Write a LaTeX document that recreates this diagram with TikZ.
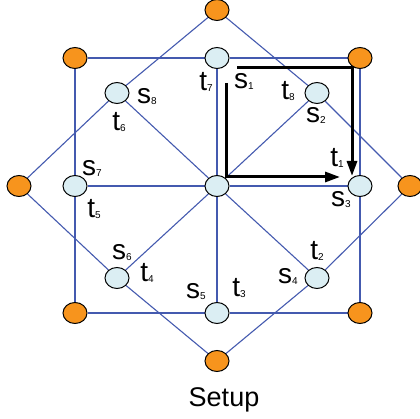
\documentclass[tikz,border=0pt]{standalone}
\usepackage{fontspec}
\setmainfont{Liberation Sans}
\usetikzlibrary{arrows.meta,backgrounds,shapes.geometric}
\definecolor{orangenode}{RGB}{247,148,29}
\definecolor{bluenode}{RGB}{219,238,243}
\definecolor{edgeblue}{RGB}{68,90,175}
\newcommand{\lab}[2]{#1\raisebox{-1pt}{\fontsize{10}{10}\selectfont #2}}
\tikzset{
  onode/.style={ellipse,draw=black,line width=1pt,fill=orangenode,minimum width=24pt,minimum height=21pt,inner sep=0pt},
  bnode/.style={ellipse,draw=black,line width=1pt,fill=bluenode,minimum width=24pt,minimum height=21pt,inner sep=0pt},
  edge/.style={draw=edgeblue,line width=1.1pt},
  lbl/.style={inner sep=0pt,font=\fontsize{28}{28}\selectfont},
  bigarrow/.style={draw=black,line width=3pt,-{Triangle[length=15pt,width=10pt]}},
}
\begin{document}
\begin{tikzpicture}[x=1pt,y=-1pt]
\useasboundingbox (0,0) rectangle (420,419);
% orange nodes
\node[onode] (OT) at (217,10) {};
\node[onode] (OL) at (19,186) {};
\node[onode] (OR) at (410,186) {};
\node[onode] (OB) at (217,361) {};
\node[onode] (OC1) at (75,58) {};
\node[onode] (OC2) at (360,58) {};
\node[onode] (OC3) at (75,313) {};
\node[onode] (OC4) at (360,313) {};
% light blue nodes
\node[bnode] (LT) at (217,58) {};
\node[bnode] (LL) at (75,186) {};
\node[bnode] (LC) at (217,186) {};
\node[bnode] (LR) at (360,186) {};
\node[bnode] (LB) at (217,313) {};
\node[bnode] (LUL) at (117,93) {};
\node[bnode] (LUR) at (317,93) {};
\node[bnode] (LLL) at (117,278) {};
\node[bnode] (LLR) at (317,278) {};
\begin{scope}[on background layer]
\draw[edge] (OC1) -- (LT) -- (OC2) -- (LR) -- (OC4) -- (LB) -- (OC3) -- (LL) -- (OC1);
\draw[edge] (LT) -- (LC) -- (LB);
\draw[edge] (LL) -- (LC) -- (LR);
\draw[edge] (LC) -- (LUL);
\draw[edge] (LC) -- (LUR);
\draw[edge] (LC) -- (LLL);
\draw[edge] (LC) -- (LLR);
\draw[edge] (OT) -- (LUR) -- (OR) -- (LLR) -- (OB) -- (LLL) -- (OL) -- (LUL) -- (OT);
\end{scope}
% arrows
\coordinate (A1s) at (237,68);
\coordinate (A1m) at (352,68);
\coordinate (A1e) at (352,176);
\coordinate (A2s) at (226,83);
\coordinate (A2m) at (226,177);
\coordinate (A2e) at (340,177);
\draw[bigarrow] (A1s) -- (A1m) -- (A1e);
\draw[bigarrow] (A2s) -- (A2m) -- (A2e);
% labels
\node[lbl] (t7) at (206,82) {\lab{t}{7}};
\node[lbl] (s1) at (244,81) {\lab{s}{1}};
\node[lbl] (t8) at (288,91) {\lab{t}{8}};
\node[lbl] (s2) at (316,115) {\lab{s}{2}};
\node[lbl] (s8) at (147,97) {\lab{s}{8}};
\node[lbl] (t6) at (119,122) {\lab{t}{6}};
\node[lbl] (s7) at (92,168) {\lab{s}{7}};
\node[lbl] (t5) at (94,209) {\lab{t}{5}};
\node[lbl] (t1) at (337,158) {\lab{t}{1}};
\node[lbl] (s3) at (341,200) {\lab{s}{3}};
\node[lbl] (s6) at (122,253) {\lab{s}{6}};
\node[lbl] (t4) at (147,273) {\lab{t}{4}};
\node[lbl] (s5) at (196,292) {\lab{s}{5}};
\node[lbl] (t3) at (239,288) {\lab{t}{3}};
\node[lbl] (s4) at (288,276) {\lab{s}{4}};
\node[lbl] (t2) at (317,251) {\lab{t}{2}};
\node[inner sep=0pt,font=\fontsize{27}{27}\selectfont] (title) at (224,400) {Setup};
\end{tikzpicture}
\end{document}
